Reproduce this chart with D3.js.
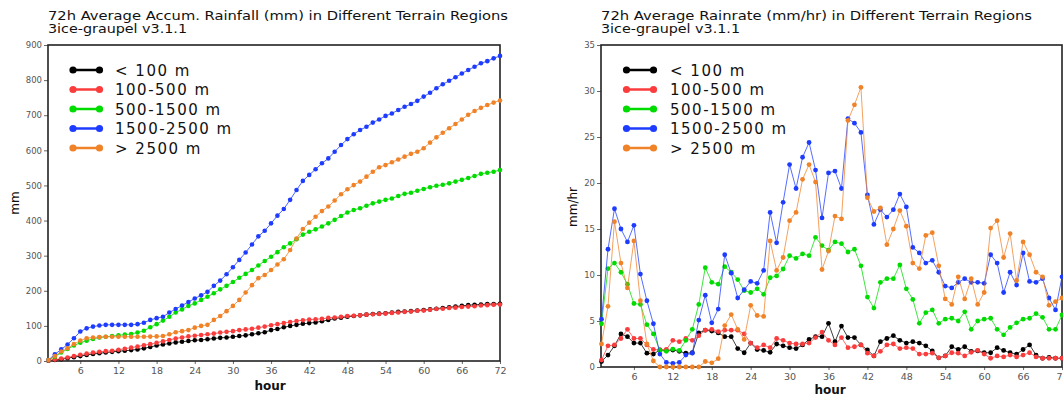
<!DOCTYPE html>
<html>
<head>
<meta charset="utf-8">
<script src="https://cdn.jsdelivr.net/npm/d3@7"></script>
<style>
  html, body { margin: 0; padding: 0; background: #fff; }
  svg { display: block; }
  text { font-family: "DejaVu Sans", sans-serif; }
</style>
</head>
<body>
<svg id="chart" width="1063" height="399"></svg>
<script>
// ---------------- DATA ----------------
const hours = d3.range(1, 73);
const seriesNames = ["< 100 m", "100-500 m", "500-1500 m", "1500-2500 m", "> 2500 m"];
const seriesColors = ["#000000", "#fa3c3c", "#00dc00", "#1e3cff", "#f08228"];

const xTicks = [6, 12, 18, 24, 30, 36, 42, 48, 54, 60, 66, 72];
const accTicks = [0, 100, 200, 300, 400, 500, 600, 700, 800, 900];
const rateTicks = [0, 5, 10, 15, 20, 25, 30, 35];

const leftTitle1 = "72h Average Accum. Rainfall (mm) in Different Terrain Regions";
const rightTitle1 = "72h Average Rainrate (mm/hr) in Different Terrain Regions";
const subTitle = "3ice-graupel v3.1.1";

// accumulated rainfall (mm)
const accLt100 = [1,3,5,8,11,14,17,20,22,24, 26,28,29,31,33,36,40,44,47,50, 53,55,57,59,60,62,64,66,67,69, 71,73,76,79,82,
  88,91,96,100,103,106,108,110,113,117, 121,123,126,128,130,132,134,135,136,138, 140,141,142,144,145,147,149,151,153,155, 157,159,160,161,162,162,163];
const acc100_500 = [1,4,7,10,14,18,21,24,26,28, 29,32,35,38,41,45,48,52,56,60, 64,67,70,72,74,76,78,81,83,85, 88,90,92,95,98,
  102,105,108,111,114,116,118,119,120,123, 124,126,128,129,130,132,133,134,135,137, 138,140,141,143,144,146,148,149,151,152, 154,155,156,158,159,160,161];
const acc500_1500 = [3,12,24,34,44,52,58,63,67,69, 71,73,75,77,81,86,96,105,115,126, 138,147,157,164,174,183,193,204,214,225,
  237,248,259,272,285,297,310,324,335,347, 360,368,375,383,392,402,413,423,430,435, 442,449,454,459,463,470,476,479,485,490,
  495,499,502,506,511,516,521,527,533,536, 539,544];
const acc1500_2500 = [3,19,33,47,65,84,93,98,101,103, 103,103,103,103,105,109,117,122,126,138, 148,158,168,178,187,197,214,229,247,267,
  288,309,332,355,371,392,414,433,459,487, 513,530,546,563,577,596,615,632,646,658, 667,679,688,698,705,715,724,732,741,753,
  764,777,788,798,808,819,829,838,848,854, 862,869];
const accGt2500 = [3,14,27,36,48,58,65,67,68,69, 69,69,69,69,69,69,69.5,70,71,76, 82,85,88,95,100,103,117,128,142,157,
  174,195,216,236,245,259,275,290,316,349, 376,394,411,427,440,457,475,489,501,511, 525,539,552,558,566,574,582,590,596,606,
  622,637,650,663,675,688,701,712,721,729, 736,742];

// rain rate (mm/hr)
const rateLt100 = [0.6,1.3,2.3,3.6,3.3,2.6,2.6,1.5,1.4,1.85, 1.8,1.85,1.7,1.5,1.55,3.7,4.0,3.9,3.7,3.3,
  3.3,2.0,1.55,2.6,1.9,1.8,1.6,2.5,2.3,2.1, 2.0,2.4,3.0,3.3,3.3,4.75,2.75,4.45,3.2,3.2, 2.4,1.85,1.2,2.75,3.1,3.4,2.9,2.6,2.75,2.6,
  2.3,1.75,1.0,1.2,2.2,1.9,2.2,1.7,1.75,1.55, 1.55,2.1,1.8,1.55,1.4,1.9,2.4,1.3,0.95,1.05, 0.95,0.95];
const rate100_500 = [0.75,2.3,2.4,3.1,4.1,3.1,3.1,2.4,1.9,1.85, 1.9,2.9,2.75,3.1,2.9,3.4,4.0,4.1,3.85,4.0,
  4.0,4.0,3.6,2.6,2.1,2.4,2.1,3.1,2.9,2.6, 2.5,2.5,2.6,3.2,3.8,2.9,2.4,3.2,2.1,2.2, 2.4,1.5,1.2,1.7,2.4,2.5,2.0,2.1,2.0,1.4,
  1.4,1.5,1.0,1.2,1.55,1.5,1.2,1.6,1.8,1.4, 0.95,1.2,1.1,1.3,1.1,1.3,1.55,1.1,0.95,0.95, 0.95,0.95];
const rate500_1500 = [4.7,10.7,11.3,10.3,9.0,6.9,6.8,4.6,3.6,1.8, 1.7,1.95,1.8,2.9,4.1,6.8,10.8,9.2,9.0,10.9,
  10.3,9.5,8.3,8.1,8.5,7.9,9.7,9.9,10.65,12.1, 11.8,12.3,12.1,14.1,13.2,12.7,13.6,13.4,12.5,12.8, 11.0,7.6,6.4,9.2,9.6,9.6,11.1,8.5,7.35,4.75,
  5.9,6.2,4.75,5.2,5.3,5.0,6.0,4.1,5.0,5.2, 5.3,4.1,3.5,4.3,4.8,5.2,5.3,5.8,5.4,4.1, 4.1,5.65];
const rate1500_2500 = [5.2,12.8,17.2,15.0,13.6,15.4,10.1,7.2,4.7,1.4, 0.5,0.4,0.5,1.3,1.5,5.1,7.8,4.8,6.3,12.2,
  10.2,7.5,8.4,9.3,9.1,10.5,16.8,13.5,17.9,22.0, 19.4,22.8,24.4,21.4,16.2,21.1,21.3,19.4,27.0,26.5, 25.5,18.7,15.5,17.1,16.3,17.1,18.8,17.4,13.0,12.4,
  11.3,11.6,10.3,8.8,8.6,9.2,9.6,9.2,9.2,9.1, 12.2,11.3,8.1,10.3,8.9,12.4,9.3,9.2,9.6,7.5, 6.2,9.8];
const rateGt2500 = [2.5,6.6,15.8,11.3,8.6,13.7,7.2,2.5,0.65,0.0, 0,0,0,0,0,0,0.6,0.45,0.9,4.5,
  5.7,4.1,3.0,6.7,5.6,5.5,13.7,10.5,11.9,15.9, 16.8,20.4,22.0,20.1,10.6,12.6,16.4,16.1,26.8,28.5, 30.4,18.4,16.9,17.3,13.3,15.0,17.0,15.3,11.3,10.7,
  14.3,14.6,11.0,7.4,6.8,9.8,7.4,9.6,6.8,8.1, 15.1,15.9,11.9,14.5,9.4,13.6,12.2,10.3,9.8,6.7, 7.1,7.5];

const accSeries = [accLt100, acc100_500, acc500_1500, acc1500_2500, accGt2500];
const rateSeries = [rateLt100, rate100_500, rate500_1500, rate1500_2500, rateGt2500];

// ---------------- DRAW ----------------
const svg = d3.select("#chart");

function panel(cfg) {
  const g = svg.append("g");
  const x = d3.scaleLinear().domain([1, 72]).range([cfg.x0 + 0.5, cfg.x1]);
  const y = d3.scaleLinear().domain(cfg.yDomain).range([cfg.y1, cfg.y0]);

  // titles
  g.append("text").attr("x", cfg.x0).attr("y", 20)
    .attr("font-size", 12).attr("fill", "#111")
    .attr("textLength", cfg.titleLen).attr("lengthAdjust", "spacingAndGlyphs")
    .text(cfg.title);
  g.append("text").attr("x", cfg.x0).attr("y", 32.5)
    .attr("font-size", 12).attr("fill", "#111")
    .attr("textLength", 139).attr("lengthAdjust", "spacingAndGlyphs")
    .text(subTitle);

  // y axis
  const yAxis = d3.axisLeft(y).tickValues(cfg.yTicks).tickSize(4).tickPadding(2);
  const ya = g.append("g").attr("transform", `translate(${cfg.x0},0)`).call(yAxis);
  ya.select(".domain").remove();
  ya.selectAll("line").attr("stroke", "#666");
  ya.selectAll("text").attr("font-size", 8.5).attr("fill", "#555")
    .attr("font-family", "DejaVu Sans, sans-serif");

  // x axis
  const xAxis = d3.axisBottom(x).tickValues(xTicks).tickSize(3).tickPadding(3);
  const xa = g.append("g").attr("transform", `translate(0,${cfg.y1})`).call(xAxis);
  xa.select(".domain").remove();
  xa.selectAll("line").attr("stroke", "#666");
  xa.selectAll("text").attr("font-size", 9.5).attr("fill", "#555")
    .attr("font-family", "DejaVu Sans, sans-serif");

  // frame
  g.append("rect").attr("x", cfg.x0).attr("y", cfg.y0)
    .attr("width", cfg.x1 - cfg.x0).attr("height", cfg.y1 - cfg.y0)
    .attr("fill", "none").attr("stroke", "#222").attr("stroke-width", 1.6);

  // axis titles
  g.append("text")
    .attr("transform", `translate(${cfg.yLabelX},${cfg.yLabelY}) rotate(-90)`)
    .attr("text-anchor", "middle").attr("font-size", 12).attr("fill", "#111")
    .text(cfg.yLabel);
  g.append("text").attr("x", cfg.xLabelX).attr("y", cfg.xLabelY)
    .attr("text-anchor", "middle").attr("font-size", 12).attr("fill", "#111")
    .attr("font-weight", "bold")
    .text("hour");

  // series
  const line = d3.line().x((d, i) => x(hours[i])).y(d => y(d));
  cfg.series.forEach((vals, k) => {
    const sg = g.append("g");
    sg.append("path").datum(vals).attr("d", line)
      .attr("fill", "none").attr("stroke", seriesColors[k])
      .attr("stroke-width", cfg.lineW).attr("stroke-opacity", cfg.lineOp);
    sg.selectAll("circle").data(vals).join("circle")
      .attr("cx", (d, i) => x(hours[i])).attr("cy", d => y(d))
      .attr("r", cfg.dotR).attr("fill", seriesColors[k]);
  });

  // legend
  const lg = g.append("g");
  seriesNames.forEach((name, k) => {
    const ly = 70 + k * 19.5;
    lg.append("line").attr("x1", cfg.legX0).attr("x2", cfg.legX1)
      .attr("y1", ly).attr("y2", ly)
      .attr("stroke", seriesColors[k]).attr("stroke-width", 2.5);
    [cfg.legX0, cfg.legX1].forEach(cx => {
      lg.append("circle").attr("cx", cx).attr("cy", ly).attr("r", 3.6)
        .attr("fill", seriesColors[k]);
    });
    lg.append("text").attr("x", cfg.legTextX).attr("y", ly + 5.5)
      .attr("font-size", 15).attr("letter-spacing", "1.5px").attr("fill", "#111")
      .text(name);
  });
}

panel({
  x0: 48, x1: 500, y0: 45, y1: 361,
  yDomain: [0, 900], yTicks: accTicks,
  title: leftTitle1, titleLen: 460,
  yLabel: "mm", yLabelX: 19, yLabelY: 203,
  xLabelX: 270, xLabelY: 390,
  series: accSeries, lineW: 1, lineOp: 0.8, dotR: 2.3,
  legX0: 73, legX1: 99.5, legTextX: 115
});

panel({
  x0: 601, x1: 1062, y0: 45, y1: 367,
  yDomain: [0, 35], yTicks: rateTicks,
  title: rightTitle1, titleLen: 431,
  yLabel: "mm/hr", yLabelX: 577, yLabelY: 207,
  xLabelX: 830, xLabelY: 394,
  series: rateSeries, lineW: 1, lineOp: 0.75, dotR: 2.4,
  legX0: 626.5, legX1: 653.5, legTextX: 670
});
</script>
</body>
</html>
